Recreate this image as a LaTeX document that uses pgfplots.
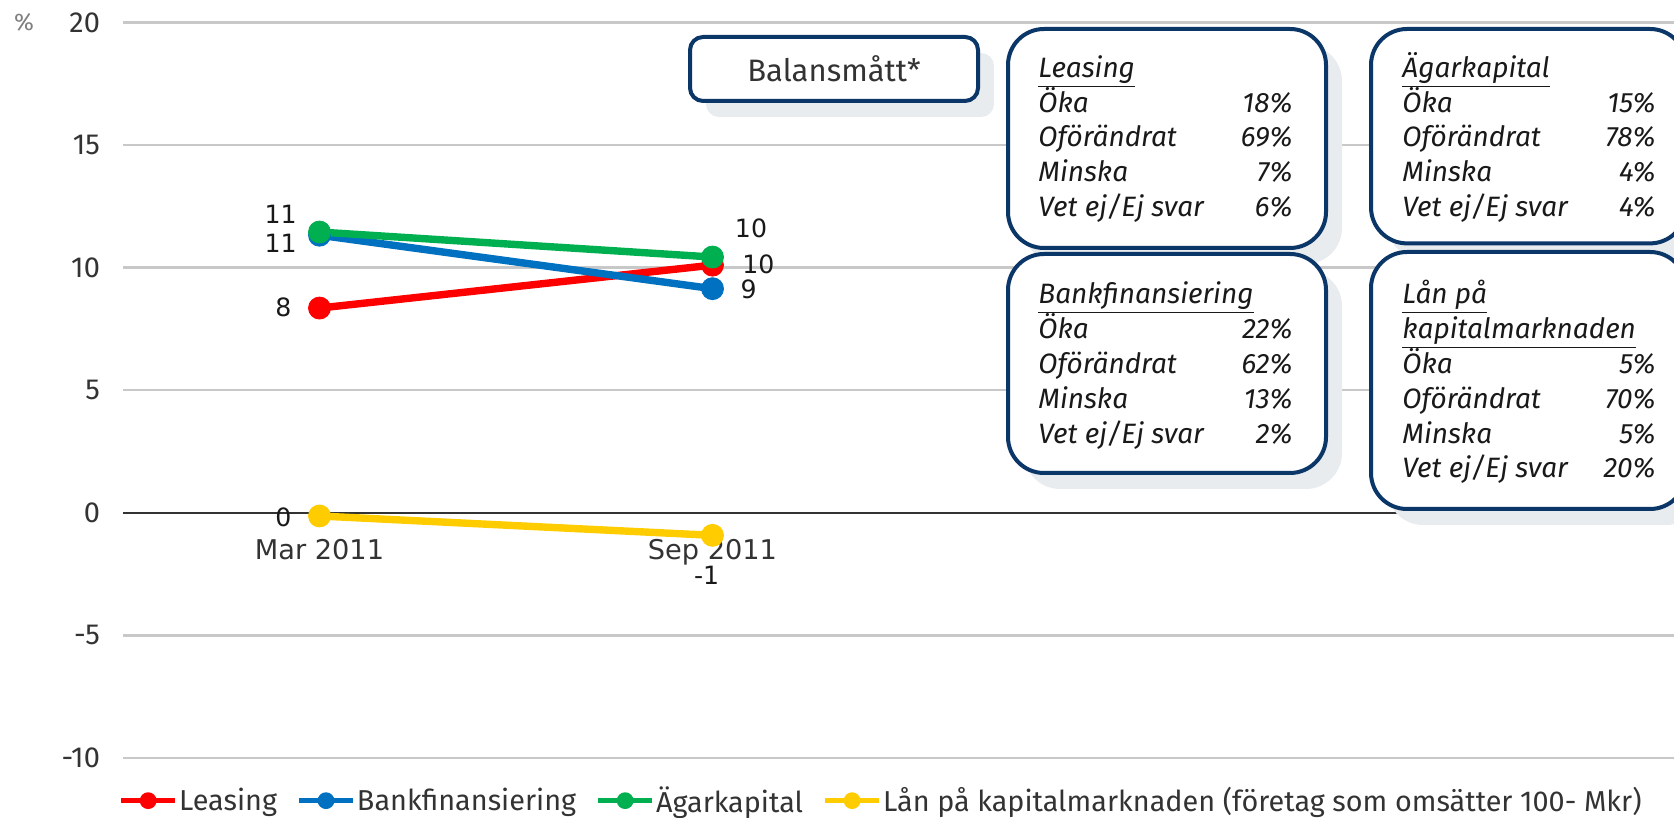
\documentclass[border=0pt]{standalone}
\usepackage{fontspec}
\setmainfont{Fira Sans}
\newfontfamily\dejavu{DejaVu Sans}
\usepackage{pgfplots}
\pgfplotsset{compat=1.18}
\usetikzlibrary{calc}
\definecolor{cLeasing}{HTML}{FF0000}
\definecolor{cBank}{HTML}{0070C0}
\definecolor{cAgar}{HTML}{00B050}
\definecolor{cLan}{HTML}{FFCC00}
\definecolor{navy}{HTML}{0B3668}
\definecolor{shadowc}{HTML}{E8ECEF}
\definecolor{gridgrey}{HTML}{C8C8C8}
\definecolor{txt}{HTML}{333333}
\tikzset{
  boxtxt/.style={font=\itshape\fontsize{14}{16}\selectfont, text=black!90, inner sep=0pt},
  lbl/.style={font=\dejavu\fontsize{12.6}{15}\selectfont, text=black!90, inner sep=0pt},
}
\newcommand\boxrow[5]{%
  \node[boxtxt, anchor=base west] at (#1,#3) {#4};
  \node[boxtxt, anchor=base east] at (#2,#3) {#5};}
\newcommand\shadbox[5]{%
  \fill[shadowc, rounded corners=#5] ($(#1,#2)+(8pt,-8pt)$) rectangle ($(#3,#4)+(8pt,-8pt)$);
  \draw[navy, line width=2pt, fill=white, rounded corners=#5] (#1,#2) rectangle (#3,#4);}
\begin{document}
\begin{tikzpicture}
\useasboundingbox (0,0) rectangle (837pt,409pt);
\clip (0,0) rectangle (837pt,409pt);
\begin{axis}[
  at={(61.5pt,30pt)}, anchor=south west, scale only axis,
  width=786pt, height=367.8pt,
  xmin=-0.5, xmax=3.5, ymin=-10, ymax=20,
  axis line style={draw=none},
  ytick={-10,-5,0,5,10,15,20}, yticklabels={-10,-5,0,5,10,15,20},
  ymajorgrids, grid style={gridgrey, line width=1.2pt},
  major tick length=0pt,
  yticklabel style={font=\fontsize{14.5}{17}\selectfont, text=txt, anchor=east, xshift=-8pt},
  xtick={0,1}, xticklabels={Mar 2011, Sep 2011},
  xticklabel style={font=\dejavu\fontsize{13.6}{16}\selectfont, text=txt, anchor=base, yshift=99pt},
  extra y ticks={0}, extra y tick labels={},
  extra y tick style={ymajorgrids=true, grid style={draw=txt, line width=1pt}},
  clip=false,
  legend columns=4,
  legend cell align=left,
  legend style={at={(axis description cs:-0.0032,-0.058)}, anchor=west, draw=none, fill=none,
    inner sep=0pt, font=\fontsize{14.4}{17}\selectfont, text=txt,
    nodes={inner sep=0.6pt},
    /tikz/every even column/.append style={column sep=9pt}},
  legend image code/.code={\draw[#1, line width=2.8pt] (0pt,0pt) -- (27pt,0pt);
    \fill[#1, draw=none] (13.5pt,0pt) circle (4.2pt);},
  every axis plot/.append style={line width=3.7pt, mark=*, mark size=5.5pt, mark options={solid, line width=0.4pt}},
]
\addplot[cLeasing] coordinates {(0,8.35) (1,10.1)};
\addplot[cBank] coordinates {(0,11.32) (1,9.14)};
\addplot[cAgar] coordinates {(0,11.45) (1,10.43)};
\addplot[cLan] coordinates {(0,-0.13) (1,-0.92)};
\legend{Leasing, Bankfinansiering, Ägarkapital, Lån på kapitalmarknaden (företag som omsätter 100- Mkr)}
\node[lbl] at (axis cs:-0.099,12.17) {11};
\node[lbl] at (axis cs:-0.099,11.01) {11};
\node[lbl] at (axis cs:-0.092,8.36) {8};
\node[lbl] at (axis cs:-0.092,-0.20) {0};
\node[lbl] at (axis cs:1.098,11.62) {10};
\node[lbl] at (axis cs:1.117,10.13) {10};
\node[lbl] at (axis cs:1.092,9.11) {9};
\node[lbl] at (axis cs:0.985,-2.55) {-1};
\end{axis}
\node[font=\fontsize{12}{14}\selectfont, text=gray] at (12pt,397.8pt) {\%};
\shadbox{345pt}{390.5pt}{489pt}{358.5pt}{6.5pt}
\node[font=\fontsize{15.5}{18}\selectfont, text=txt] at (417pt,374.5pt) {Balansmått*};
\shadbox{504pt}{394.5pt}{663pt}{285pt}{18pt}
\boxrow{519pt}{646.5pt}{370.25pt}{\underline{Leasing}}{}
\boxrow{519pt}{646.5pt}{352.9pt}{Öka}{18\%}
\boxrow{519pt}{646.5pt}{335.55pt}{Oförändrat}{69\%}
\boxrow{519pt}{646.5pt}{318.2pt}{Minska}{7\%}
\boxrow{519pt}{646.5pt}{300.85pt}{Vet ej/Ej svar}{6\%}
\shadbox{685.5pt}{394.5pt}{843pt}{287.3pt}{18pt}
\boxrow{701pt}{828pt}{370.25pt}{\underline{Ägarkapital}}{}
\boxrow{701pt}{828pt}{352.9pt}{Öka}{15\%}
\boxrow{701pt}{828pt}{335.55pt}{Oförändrat}{78\%}
\boxrow{701pt}{828pt}{318.2pt}{Minska}{4\%}
\boxrow{701pt}{828pt}{300.85pt}{Vet ej/Ej svar}{4\%}
\shadbox{504pt}{282pt}{663pt}{172.5pt}{18pt}
\boxrow{519pt}{646.5pt}{257pt}{\underline{Bankfinansiering}}{}
\boxrow{519pt}{646.5pt}{239.6pt}{Öka}{22\%}
\boxrow{519pt}{646.5pt}{222.2pt}{Oförändrat}{62\%}
\boxrow{519pt}{646.5pt}{204.8pt}{Minska}{13\%}
\boxrow{519pt}{646.5pt}{187.4pt}{Vet ej/Ej svar}{2\%}
\shadbox{685.5pt}{283pt}{843pt}{154.5pt}{18pt}
\boxrow{701pt}{828pt}{257pt}{\underline{Lån på}}{}
\boxrow{701pt}{828pt}{239.6pt}{\underline{kapitalmarknaden}}{}
\boxrow{701pt}{828pt}{222.2pt}{Öka}{5\%}
\boxrow{701pt}{828pt}{204.8pt}{Oförändrat}{70\%}
\boxrow{701pt}{828pt}{187.4pt}{Minska}{5\%}
\boxrow{701pt}{828pt}{170pt}{Vet ej/Ej svar}{20\%}
\end{tikzpicture}
\end{document}
